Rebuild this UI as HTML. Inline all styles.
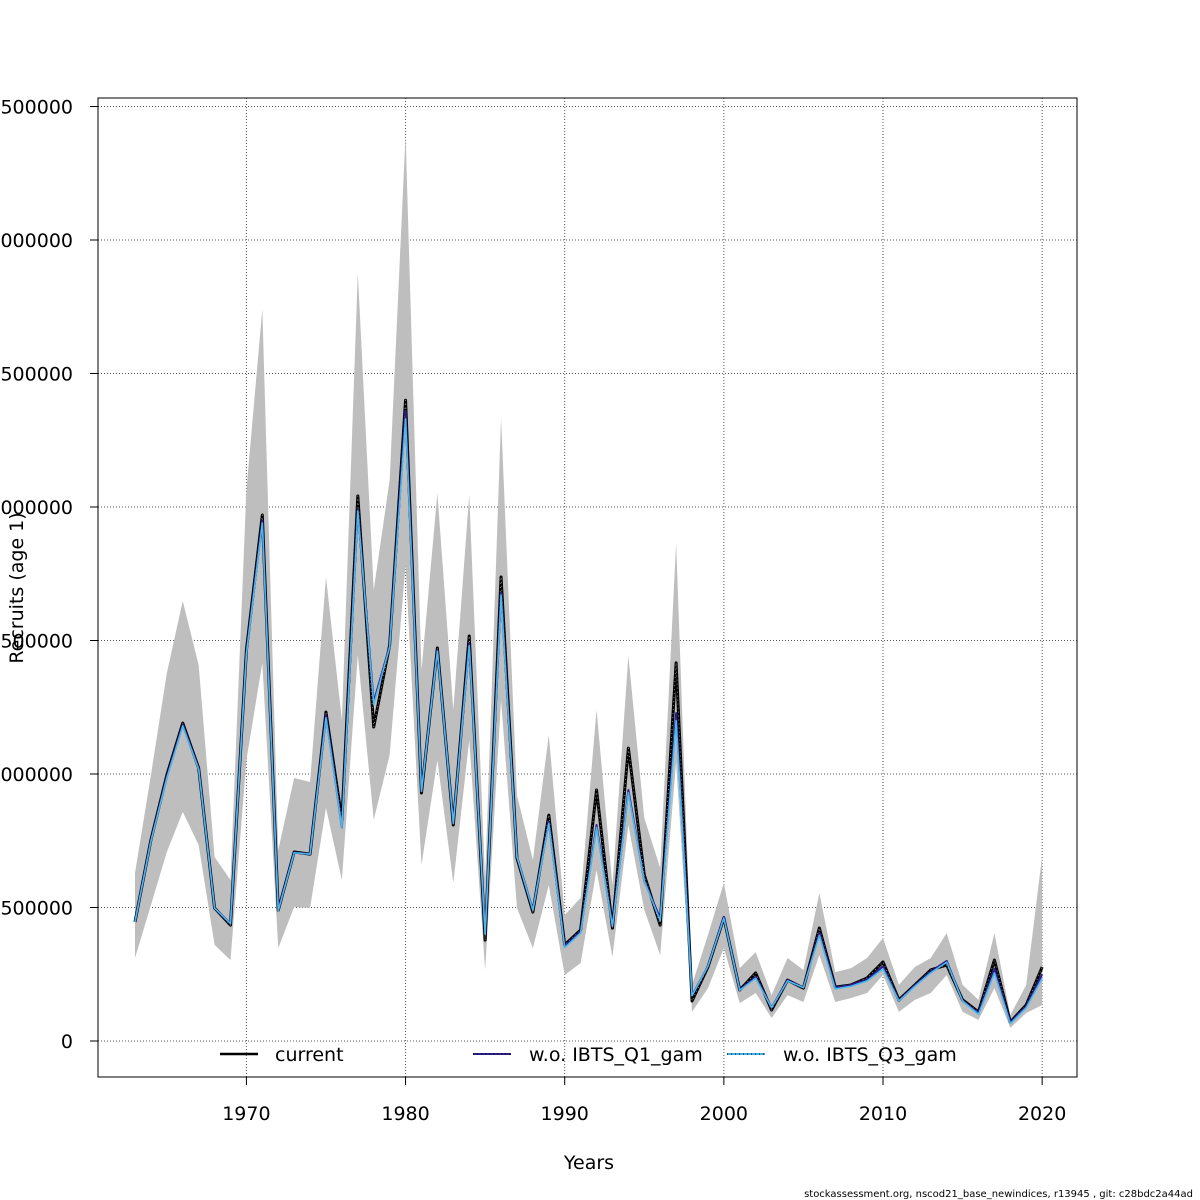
<!DOCTYPE html>
<html><head><meta charset="utf-8"><style>
body{margin:0;background:#fff;}
svg{display:block;font-family:"DejaVu Sans","Liberation Sans",sans-serif;}
</style></head><body>
<svg id="chart" width="1200" height="1200" viewBox="0 0 1200 1200">
<g id="grid"></g>
<g id="band"></g>
<g id="lines"></g>
<rect x="98" y="98" width="979" height="979" fill="none" stroke="#000" stroke-width="1"/>
<g id="yticks"></g>
<g id="xticks"></g>
<text x="589" y="1169" font-size="19" text-anchor="middle">Years</text>
<text transform="translate(23,588) rotate(-90)" font-size="19" text-anchor="middle">Recruits (age 1)</text>
<g>
<g><line x1="220" y1="1054" x2="258" y2="1054" stroke="#000" stroke-width="2.5"/><text x="275" y="1061" font-size="19">current</text></g>
<g><line x1="473" y1="1054" x2="511" y2="1054" stroke="#2a1f8f" stroke-width="2"/><line x1="473" y1="1054" x2="511" y2="1054" stroke="#000" stroke-width="1" stroke-dasharray="1,3"/><text x="529" y="1061" font-size="19">w.o. IBTS_Q1_gam</text></g>
<g><line x1="727" y1="1054" x2="765" y2="1054" stroke="#3db2e8" stroke-width="2"/><line x1="727" y1="1054" x2="765" y2="1054" stroke="#000" stroke-width="1" stroke-dasharray="1,3"/><text x="783" y="1061" font-size="19">w.o. IBTS_Q3_gam</text></g>
</g>
<text x="1193" y="1197" font-size="10" text-anchor="end">stockassessment.org, nscod21_base_newindices, r13945 , git: c28bdc2a44ad</text>
</svg>
<script>
const years=[];for(let y=1963;y<=2020;y++)years.push(y);
const current=[446,753,996,1191,1022,498,434,1464,1970,490,708,700,1232,828,2041,1176,1483,2400,929,1472,809,1517,378,1738,685,483,846,360,416,940,423,1097,622,434,1416,150,277,461,191,255,116,228,198,423,202,210,236,296,154,210,266,285,154,109,303,71,135,277];
const q1=[446,750,990,1185,1020,498,440,1455,1950,490,706,700,1220,800,1990,1270,1480,2360,935,1465,815,1490,400,1680,690,490,820,355,410,809,430,940,600,460,1228,170,280,465,191,240,125,228,200,405,200,210,230,280,150,208,260,300,150,105,270,70,130,250];
const q3=[446,748,985,1180,1018,498,440,1450,1940,488,705,700,1210,800,1985,1260,1475,2330,935,1460,815,1480,400,1670,690,490,815,350,405,800,430,930,600,450,1200,170,280,460,190,235,125,225,200,395,195,205,225,270,150,205,255,295,150,100,255,65,125,235];
const upper=[629,996,1378,1648,1408,689,603,2063,2741,715,985,970,1738,1202,2876,1689,2101,3393,1389,2052,1240,2045,603,2333,921,678,1146,472,536,1240,584,1442,835,648,1865,210,397,592,273,333,172,311,266,554,258,273,311,386,210,277,311,404,210,154,404,97,210,693];
const lower=[311,509,708,858,734,360,303,1052,1416,348,502,498,873,603,1446,828,1071,1783,659,1052,592,1127,266,1277,498,348,584,247,292,640,315,809,491,322,1045,109,198,348,142,180,86,172,146,322,146,161,180,247,109,154,180,247,109,79,198,49,105,135];
const yTicks=[0,500000,1000000,1500000,2000000,2500000,3000000,3500000];
const xTicks=[1970,1980,1990,2000,2010,2020];
const NS="http://www.w3.org/2000/svg";
const xs=y=>135+(y-1963)*15.915;
const ys=v=>1041-v/500000*133.5;
function mk(tag,attrs,parent){const e=document.createElementNS(NS,tag);for(const k in attrs)e.setAttribute(k,attrs[k]);parent.appendChild(e);return e;}
const grid=document.getElementById('grid'),yt=document.getElementById('yticks'),xt=document.getElementById('xticks');
yTicks.forEach(v=>{const y=ys(v);
 const g=mk('line',{x1:98,x2:1077,y1:y,y2:y,stroke:'#555','stroke-dasharray':'1,2','stroke-width':1},grid);
 
 
 const t=mk('line',{x1:90,x2:98,y1:y,y2:y,stroke:'#000'},yt);
 
 
 const l=mk('text',{x:73,y:y+7,'font-size':19,'text-anchor':'end'},yt);l.textContent=String(v);
 
 
});
xTicks.forEach(v=>{const x=xs(v);
 const g=mk('line',{x1:x,x2:x,y1:98,y2:1077,stroke:'#555','stroke-dasharray':'1,2','stroke-width':1},grid);
 
 
 const t=mk('line',{x1:x,x2:x,y1:1077,y2:1085,stroke:'#000'},xt);
 
 
 const l=mk('text',{x:x,y:1120,'font-size':19,'text-anchor':'middle'},xt);l.textContent=String(v);
 
 
});
let pts=years.map((y,i)=>xs(y)+','+ys(upper[i]*1000));
pts=pts.concat(years.map((y,i)=>xs(y)+','+ys(lower[i]*1000)).reverse());
const band=mk('polygon',{points:pts.join(' '),fill:'#bebebe',stroke:'none'},document.getElementById('band'));


const L=document.getElementById('lines');
function line(arr,attrs,name){const p=mk('polyline',Object.assign({points:years.map((y,i)=>xs(y)+','+ys(arr[i]*1000)).join(' '),fill:'none','stroke-linejoin':'round'},attrs),L);
 
 }
line(current,{stroke:'#000','stroke-width':3},'line-current');
line(current,{stroke:'#888','stroke-width':1,'stroke-dasharray':'1,3'},'line-current-dots');
line(q1,{stroke:'#2a1f8f','stroke-width':2},'line-wo-ibts-q1');
line(q3,{stroke:'#4ab8ec','stroke-width':1.6},'line-wo-ibts-q3');
</script>
</body></html>
